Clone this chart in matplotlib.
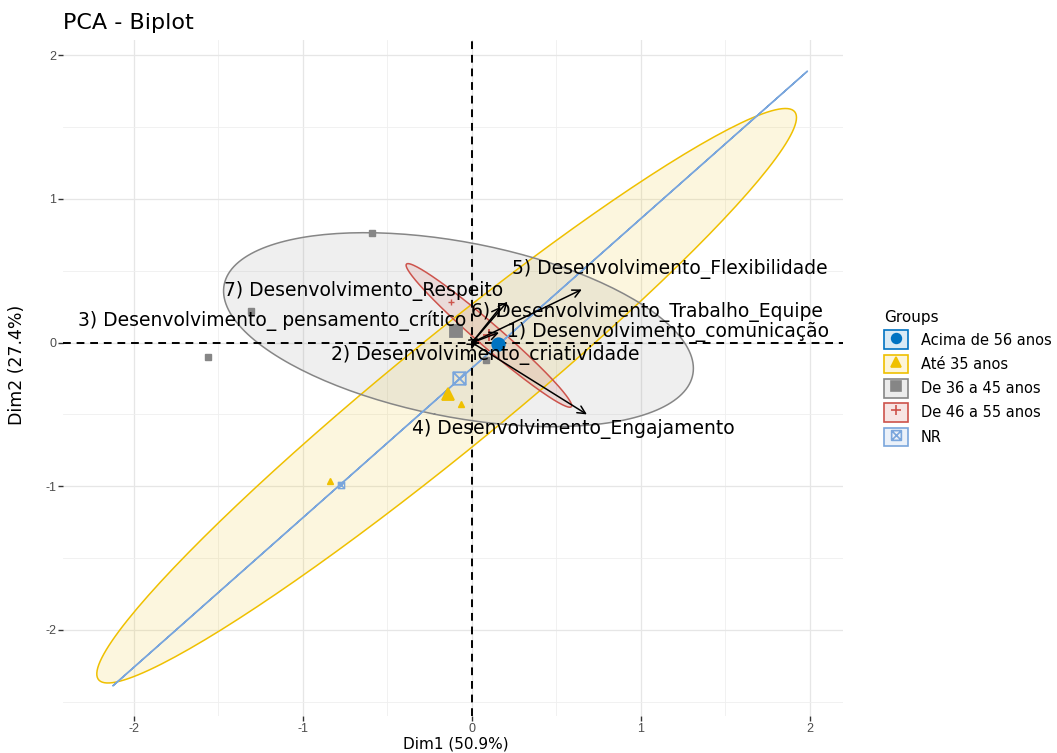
import numpy as np
import matplotlib
matplotlib.use("Agg")
import matplotlib.pyplot as plt
from matplotlib.patches import Patch
from matplotlib.lines import Line2D
from matplotlib.path import Path
from matplotlib.colors import to_rgba

plt.rcParams['font.family'] = ['DejaVu Sans']
plt.rcParams['axes.unicode_minus'] = False

# grupos (paleta jco)
grupos = ['Acima de 56 anos', 'Até 35 anos', 'De 36 a 45 anos', 'De 46 a 55 anos', 'NR']
cores = ['#0073C2', '#EFC000', '#868686', '#CD534C', '#7AA6DC']

# individuos visiveis (Dim1, Dim2)
ind_x = [[0.15], [-0.065, -0.84], [-0.59, -1.31, -1.56, 0.083], [-0.125], [-0.775]]
ind_y = [[-0.01], [-0.43, -0.965], [0.765, 0.22, -0.10, -0.12], [0.28], [-0.99]]

# centros dos grupos
media_x = [0.154, -0.14, -0.095, 0.10, -0.077]
media_y = [-0.007, -0.355, 0.08, 0.05, -0.243]

# elipses: centro e matriz (sxx, sxy, syy); None = sem elipse
elip_cx = [None, -0.15, -0.08, 0.10, -0.07]
elip_cy = [None, -0.37, 0.09, 0.05, -0.25]
elip_sxx = [None, 4.285, 1.932, 0.24, 4.223]
elip_sxy = [None, 4.009, -0.375, -0.2394, 4.398]
elip_syy = [None, 4.00, 0.456, 0.25, 4.58]

# variaveis
var_nomes = ['1) Desenvolvimento_comunicação', '2) Desenvolvimento_criatividade',
             '3) Desenvolvimento_ pensamento_crítico', '4) Desenvolvimento_Engajamento',
             '5) Desenvolvimento_Flexibilidade', '6) Desenvolvimento_Trabalho_Equipe',
             '7) Desenvolvimento_Respeito']
var_x = [0.16, 0.03, 0.04, 0.68, 0.65, 0.21, 0.17]
var_y = [0.07, -0.02, 0.03, -0.50, 0.37, 0.285, 0.25]
lab_x = [1.16, 0.077, -1.18, 0.60, 1.17, 1.035, -0.64]
lab_y = [0.077, -0.083, 0.153, -0.60, 0.515, 0.216, 0.36]

# marcador "quadrado com X"
quad_x = Path([(-1, -1), (1, -1), (1, 1), (-1, 1), (-1, -1), (-1, -1), (1, 1), (-1, 1), (1, -1)],
              [Path.MOVETO, Path.LINETO, Path.LINETO, Path.LINETO, Path.CLOSEPOLY,
               Path.MOVETO, Path.LINETO, Path.MOVETO, Path.LINETO])
marcadores = ['o', '^', 's', '+', quad_x]


def elipse(cx, cy, sxx, sxy, syy, n=200):
    S = np.array([[sxx, sxy], [sxy, syy]])
    vals, vecs = np.linalg.eigh(S)
    vals = np.clip(vals, 0, None)
    t = np.linspace(0, 2 * np.pi, n)
    pts = vecs @ (np.sqrt(vals)[:, None] * np.vstack([np.cos(t), np.sin(t)]))
    return cx + pts[0], cy + pts[1]


fig = plt.figure(figsize=(10.57, 7.53), dpi=100)
ax = fig.add_axes([0.0596, 0.0491, 0.7379, 0.8978])

for k in range(len(grupos)):
    if elip_cx[k] is None:
        continue
    ex, ey = elipse(elip_cx[k], elip_cy[k], elip_sxx[k], elip_sxy[k], elip_syy[k])
    ax.fill(ex, ey, color=cores[k], alpha=0.13, lw=0, zorder=2)
    ax.plot(ex, ey, color=cores[k], lw=1.1, zorder=3)

ax.axhline(0, color='black', ls=(0, (4, 3)), lw=1.4, zorder=4)
ax.axvline(0, color='black', ls=(0, (4, 3)), lw=1.4, zorder=4)

for k in range(len(grupos)):
    fc = 'none' if k == 4 else cores[k]
    ax.plot(ind_x[k], ind_y[k], ls='none', marker=marcadores[k], ms=4.5, color=cores[k],
            mfc=fc, mew=1.0, zorder=5)
    ax.plot(media_x[k], media_y[k], ls='none', marker=marcadores[k], ms=9, color=cores[k],
            mfc=fc, mew=1.3, zorder=5)

for k in range(len(var_nomes)):
    ax.annotate('', xy=(var_x[k], var_y[k]), xytext=(0, 0),
                arrowprops=dict(arrowstyle='->', color='black', lw=1.1,
                                mutation_scale=14, shrinkA=0, shrinkB=0), zorder=6)
    ax.text(lab_x[k], lab_y[k], var_nomes[k], ha='center', va='center',
            fontsize=13.5, color='black', zorder=7)

ax.set_xticks([-2, -1, 0, 1, 2])
ax.set_yticks([-2, -1, 0, 1, 2])
ax.set_xticks(np.arange(-2.0, 2.5, 0.5), minor=True)
ax.set_yticks(np.arange(-2.5, 2.5, 0.5), minor=True)
ax.set_xlim(-2.42, 2.195)
ax.set_ylim(-2.60, 2.107)
ax.grid(True, which='major', color='#E6E6E6', lw=0.9)
ax.grid(True, which='minor', color='#EFEFEF', lw=0.6)
ax.set_axisbelow(True)
for s in ax.spines.values():
    s.set_visible(False)
ax.tick_params(which='major', length=3.5, width=1.0, color='#333333',
               labelsize=9, labelcolor='#4D4D4D', pad=1.5)
ax.tick_params(which='minor', length=0)
for lbl in ax.get_xticklabels() + ax.get_yticklabels():
    lbl.set_fontfamily('Liberation Sans')
ax.set_xlabel('Dim1 (50.9%)', fontsize=11, va='bottom')
ax.xaxis.set_label_coords(0.503, -0.0525)
ax.set_ylabel('Dim2 (27.4%)', fontsize=12.5)
ax.yaxis.set_label_coords(-0.048, 0.52)
ax.set_title('PCA - Biplot', loc='left', fontsize=16, pad=8)

handles = []
for k in range(len(grupos)):
    caixa = Patch(facecolor=to_rgba(cores[k], 0.15), edgecolor=cores[k], lw=1.2)
    fc = 'none' if k == 4 else cores[k]
    mk = Line2D([], [], ls='none', marker=marcadores[k], ms=7, color=cores[k], mfc=fc, mew=1.2)
    handles.append((caixa, mk))
leg = fig.legend(handles, grupos, loc='upper left', bbox_to_anchor=(0.827, 0.602),
                 frameon=False, fontsize=10.5, title='Groups', title_fontsize=11,
                 handlelength=1.6, handleheight=1.6, labelspacing=0.38, borderpad=0.2,
                 handletextpad=0.9, alignment='left')

fig.savefig('out.png', dpi=100)
